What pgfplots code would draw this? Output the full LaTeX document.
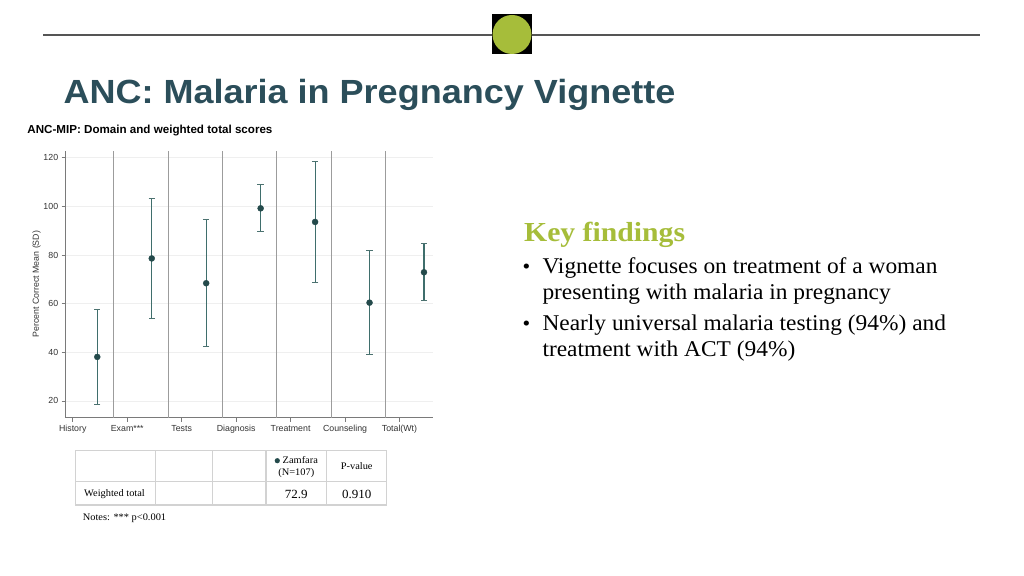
\documentclass[border=0pt]{standalone}
\usepackage{fontspec}
\setmainfont{Liberation Serif}
\setsansfont{Liberation Sans}
\newfontfamily\slide{Liberation Serif}[FakeStretch=1.04]
\newfontfamily\slidehead{Liberation Serif}[FakeStretch=1.08]
\newfontfamily\titlefont{Liberation Sans}[FakeStretch=1.075]
\usepackage{pgfplots}
\pgfplotsset{compat=1.18}

\definecolor{titleteal}{HTML}{2B4E5A}
\definecolor{keygreen}{HTML}{A6BD3A}
\definecolor{markcol}{HTML}{244A4B}
\definecolor{barcol}{HTML}{3F6E6C}
\definecolor{sepgray}{HTML}{9C9C9C}
\definecolor{axisgray}{HTML}{7A7A7A}
\definecolor{gridgray}{HTML}{EFEFEF}
\definecolor{tablegray}{HTML}{D2D2D2}
\definecolor{rulegray}{HTML}{555555}

\newcommand{\fs}[1]{\fontsize{#1bp}{1.2\dimexpr#1bp\relax}\selectfont}

\begin{document}
\begin{tikzpicture}[x=1bp,y=1bp]
\useasboundingbox[fill=white] (0,0) rectangle (1024,576);

% header rule and green badge
\draw[rulegray, line width=1.3bp] (43,541) -- (980,541);
\fill[black] (492,521.5) rectangle (532,561.5);
\fill[keygreen] (512,541.5) circle (19.5);

% slide title
\node[anchor=base west, inner sep=0, text=titleteal, font=\titlefont\bfseries\fs{33.5}] at (63.4,472.7) {ANC: Malaria in Pregnancy Vignette};
\node[anchor=base west, inner sep=0, font=\sffamily\bfseries\fs{11.6}] at (27.3,442) {ANC-MIP: Domain and weighted total scores};

\begin{axis}[
  at={(65.7bp,158.3bp)}, anchor=south west,
  scale only axis, width=367bp, height=267bp,
  xmin=-0.13, xmax=6.61, ymin=13.1, ymax=122.9,
  axis x line*=bottom, axis y line*=left,
  axis line style={draw=axisgray, line width=1bp},
  xtick={0,...,6},
  xticklabels={History,Exam***,Tests,Diagnosis,Treatment,Counseling,Total(Wt)},
  ytick={20,40,60,80,100,120},
  tick align=outside, major tick length=4bp,
  tick style={axisgray, line width=0.8bp},
  ticklabel style={font=\sffamily\fs{8.8}, text=black!80},
  /pgf/number format/assume math mode=true,
  ymajorgrids, grid style={gridgray, line width=0.8bp},
  extra x ticks={0.75,1.75,2.75,3.75,4.75,5.75},
  extra x tick labels={},
  extra x tick style={grid=major, major grid style={sepgray, line width=1bp}, major tick length=0pt},
  ylabel={Percent Correct Mean (SD)},
  ylabel style={at={(axis description cs:-0.079,0.5)}, anchor=center, font=\sffamily\fs{8.8}, text=black!80},
  clip=false,
]
\addplot[only marks, mark=*, mark size=3bp, mark options={fill=markcol, draw=markcol},
  error bars/.cd, y dir=both, y explicit,
  error bar style={color=barcol, line width=1.1bp},
  error mark options={rotate=90, mark size=3.2bp, line width=1bp, color=barcol!80!gray}]
coordinates {
  (0.45,38.1) +- (0,19.6)
  (1.45,78.6) +- (0,24.7)
  (2.45,68.4) +- (0,26.1)
  (3.45,99.2) +- (0,9.65)
  (4.45,93.6) +- (0,24.8)
  (5.45,60.4) +- (0,21.3)
  (6.45,72.9) +- (0,11.7)
};
\end{axis}

% key findings
\node[anchor=base west, inner sep=0, text=keygreen, font=\slidehead\bfseries\fs{27.5}] at (524,334.3) {Key findings};
\begin{scope}[every node/.style={anchor=base west, inner sep=0, font=\slide\fs{22.5}}]
\node[font=\slide\fs{21}] at (522.5,302.7) {\textbullet};
\node at (542.3,302.7) {Vignette focuses on treatment of a woman};
\node at (542.3,276) {presenting with malaria in pregnancy};
\node[font=\slide\fs{21}] at (522.5,245.3) {\textbullet};
\node at (542.3,245.3) {Nearly universal malaria testing (94\%) and};
\node at (542.3,219.3) {treatment with ACT (94\%)};
\end{scope}

% summary table
\begin{scope}[tablegray, line width=1.3bp]
\draw (75.3,71) rectangle (386.7,125.3);
\draw (75.3,94.3) -- (386.7,94.3);
\foreach \cx in {155.7,212.7,266,326.7} \draw (\cx,71) -- (\cx,125.3);
\end{scope}
\fill[markcol] (277.3,115.3) circle (2.6);
\begin{scope}[every node/.style={inner sep=0, font=\slide\fs{10}}]
\node[anchor=base west] at (282.5,112) {Zamfara};
\node[anchor=base] at (296.3,100) {(N=107)};
\node[anchor=base] at (356.7,106) {P-value};
\node[anchor=base west] at (84,79) {Weighted total};
\node[anchor=base, font=\slide\fs{12.5}] at (296.3,77) {72.9};
\node[anchor=base, font=\slide\fs{12.5}] at (356.7,77) {0.910};
\node[anchor=base west] at (82.7,55) {Notes: *** p<0.001};
\end{scope}
\end{tikzpicture}
\end{document}
